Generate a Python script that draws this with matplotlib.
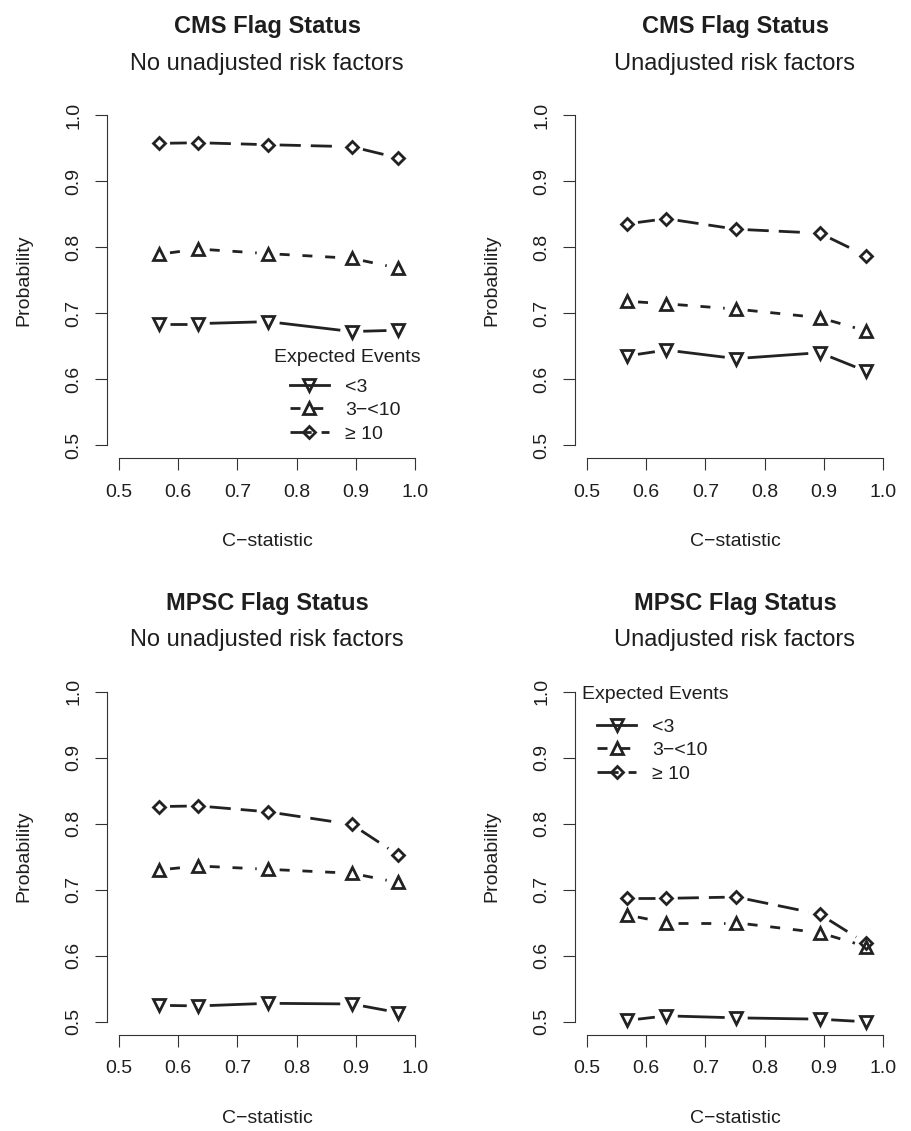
import matplotlib.pyplot as plt
from matplotlib.lines import Line2D
import numpy as np

plt.rcParams['font.family'] = ['Liberation Sans', 'DejaVu Sans']

# x values shared by every panel
c_stat = [0.567, 0.634, 0.752, 0.893, 0.971]

ticks = [0.5, 0.6, 0.7, 0.8, 0.9, 1.0]
tick_labels = ['0.5', '0.6', '0.7', '0.8', '0.9', '1.0']
group_labels = ['<3', '3\u2212<10', '\u2265 10']

# CMS, no unadjusted risk factors
cms_noadj_lt3 = [0.684, 0.684, 0.687, 0.672, 0.674]
cms_noadj_3to10 = [0.789, 0.797, 0.790, 0.783, 0.768]
cms_noadj_ge10 = [0.957, 0.958, 0.955, 0.952, 0.935]

# CMS, unadjusted risk factors
cms_adj_lt3 = [0.635, 0.644, 0.631, 0.640, 0.612]
cms_adj_3to10 = [0.718, 0.714, 0.706, 0.693, 0.673]
cms_adj_ge10 = [0.835, 0.843, 0.827, 0.821, 0.787]

# MPSC, no unadjusted risk factors
mpsc_noadj_lt3 = [0.525, 0.524, 0.528, 0.527, 0.514]
mpsc_noadj_3to10 = [0.730, 0.736, 0.731, 0.725, 0.711]
mpsc_noadj_ge10 = [0.826, 0.827, 0.818, 0.799, 0.753]

# MPSC, unadjusted risk factors
mpsc_adj_lt3 = [0.502, 0.509, 0.506, 0.504, 0.500]
mpsc_adj_3to10 = [0.662, 0.650, 0.650, 0.635, 0.614]
mpsc_adj_ge10 = [0.687, 0.687, 0.689, 0.663, 0.619]

ink = '#222222'
txt = '#1e1e1e'
lw = 2.0
mew = 2.0
styles = [
    dict(marker='v', ms=8.0, ls='-'),
    dict(marker='^', ms=8.0, ls=(0, (3.6, 4.6))),
    dict(marker='D', ms=6.3, ls=(0, (7.6, 3.6))),
]

W, H = 911, 1131
fig = plt.figure(figsize=(W / 100, H / 100), dpi=100)


def add_axes_px(left, top, w=320, h=356.5):
    return fig.add_axes([left / W, 1 - (top + h) / H, w / W, h / H])


def draw_series(ax, x, y, st, gap=11.5):
    # R type="b": markers with line segments stopping short of each point
    ax.plot(x, y, linestyle='none', marker=st['marker'], ms=st['ms'],
            mfc='none', mec=ink, mew=mew, zorder=3)
    pts = ax.transData.transform(np.column_stack([x, y]))
    inv = ax.transData.inverted()
    for p0, p1 in zip(pts[:-1], pts[1:]):
        d = p1 - p0
        L = np.hypot(d[0], d[1])
        if L <= 2 * gap:
            continue
        u = d / L
        a = inv.transform(p0 + u * gap)
        b = inv.transform(p1 - u * gap)
        ax.plot([a[0], b[0]], [a[1], b[1]], color=ink, lw=lw, ls=st['ls'],
                solid_capstyle='butt', zorder=2)


# legend: (title centre x, title centre y, entries upper-left x, y) in axes fraction
panels = [
    (107, 101.8, 'CMS Flag Status', 'No unadjusted risk factors',
     [cms_noadj_lt3, cms_noadj_3to10, cms_noadj_ge10], (0.752, 0.284, 0.572, 0.225)),
    (575, 101.8, 'CMS Flag Status', 'Unadjusted risk factors',
     [cms_adj_lt3, cms_adj_3to10, cms_adj_ge10], None),
    (107, 678.5, 'MPSC Flag Status', 'No unadjusted risk factors',
     [mpsc_noadj_lt3, mpsc_noadj_3to10, mpsc_noadj_ge10], None),
    (575, 678.5, 'MPSC Flag Status', 'Unadjusted risk factors',
     [mpsc_adj_lt3, mpsc_adj_3to10, mpsc_adj_ge10], (0.25, 0.954, 0.069, 0.889)),
]

for left, top, title, subtitle, series, leg_pos in panels:
    ax = add_axes_px(left, top)
    ax.set_xlim(0.48, 1.02)
    ax.set_ylim(0.48, 1.02)
    for s in ['top', 'right']:
        ax.spines[s].set_visible(False)
    for s in ['left', 'bottom']:
        ax.spines[s].set_bounds(0.5, 1.0)
        ax.spines[s].set_color('#333333')
        ax.spines[s].set_linewidth(0.8)
    ax.set_xticks(ticks, labels=tick_labels)
    ax.set_yticks(ticks, labels=tick_labels)
    ax.tick_params(axis='both', length=8.6, width=0.8, color='#333333',
                   labelsize=14, labelcolor=txt)
    ax.tick_params(axis='x', pad=9.6)
    ax.tick_params(axis='y', pad=9.3)
    plt.setp(ax.get_yticklabels(), rotation=90, va='center')

    for y, st in zip(series, styles):
        draw_series(ax, c_stat, y, st)

    ax.annotate(title, xy=(0.5, 1), xycoords='axes fraction', xytext=(0, 54.0),
                textcoords='offset points', ha='center', va='center',
                fontsize=17, fontweight='bold', color=txt)
    ax.annotate(subtitle, xy=(0.5, 1), xycoords='axes fraction', xytext=(0, 27.5),
                textcoords='offset points', ha='center', va='center',
                fontsize=17, color=txt)
    ax.annotate('C\u2212statistic', xy=(0.5, 0), xycoords='axes fraction',
                xytext=(0, -60.1), textcoords='offset points', ha='center',
                va='center', fontsize=14, color=txt)
    ax.annotate('Probability', xy=(0, 0.5), xycoords='axes fraction',
                xytext=(-59.8, 0), textcoords='offset points', ha='center',
                va='center', rotation=90, fontsize=14, color=txt)

    if leg_pos is not None:
        tx, ty, lx, ly = leg_pos
        ax.text(tx, ty, 'Expected Events', transform=ax.transAxes,
                ha='center', va='center', fontsize=14, color=txt)
        handles = [Line2D([], [], color=ink, lw=lw, ls=st['ls'], marker=st['marker'],
                          ms=st['ms'], mfc='none', mec=ink, mew=mew)
                   for st in styles]
        leg = ax.legend(handles, group_labels, loc='upper left',
                        bbox_to_anchor=(lx, ly), frameon=False, fontsize=14,
                        borderpad=0, borderaxespad=0, handlelength=2.0,
                        handletextpad=0.85, labelspacing=0.3)
        for t in leg.get_texts():
            t.set_color(txt)

fig.savefig('out.png', dpi=100)
